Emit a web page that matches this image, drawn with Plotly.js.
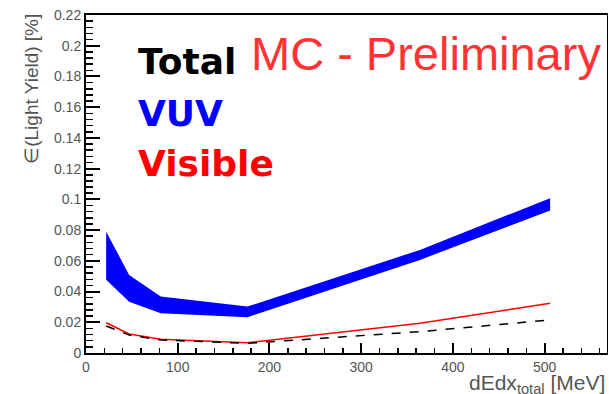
<!DOCTYPE html>
<html>
<head>
<meta charset="utf-8">
<script src="https://cdn.plot.ly/plotly-3.0.1.min.js"></script>
<style>html,body{margin:0;padding:0;background:#fff;}#chart{width:609px;height:394px;}</style>
</head>
<body>
<div id="chart"></div>
<script>
// Data
var dEdx = [22, 47, 81.5, 176, 364, 506];
var vuvUpper = [0.079, 0.0508, 0.0367, 0.0302, 0.0671, 0.1008];
var vuvLower = [0.0476, 0.0334, 0.0259, 0.0233, 0.0606, 0.0927];
var visible = [0.0197, 0.0124, 0.0089, 0.0067, 0.0193, 0.0324];
var total = [0.0176, 0.0117, 0.0085, 0.0063, 0.0139, 0.0215];

var traces = [
  {x: dEdx, y: vuvLower, mode: 'lines', line: {width: 0, color: '#0000ff'}, showlegend: false, hoverinfo: 'skip'},
  {x: dEdx, y: vuvUpper, mode: 'lines', line: {width: 0, color: '#0000ff'}, fill: 'tonexty', fillcolor: '#0000ff', showlegend: false},
  {x: dEdx, y: visible, mode: 'lines', line: {width: 1.5, color: '#ff0000'}, showlegend: false},
  {x: dEdx, y: total, mode: 'lines', line: {width: 1.5, color: '#000000', dash: 'dash'}, showlegend: false}
];

var axisFont = {family: 'Liberation Sans, Arial, sans-serif', size: 14, color: '#555'};
var layout = {
  width: 609, height: 394,
  margin: {l: 86, r: 2, t: 15, b: 41},
  paper_bgcolor: '#fff', plot_bgcolor: 'rgba(0,0,0,0)',
  showlegend: false,
  xaxis: {
    range: [0, 568], showgrid: false, zeroline: false,
    showline: true, linecolor: '#000', linewidth: 2,
    ticks: 'inside', ticklen: 10, tickcolor: '#000', tickwidth: 2,
    dtick: 100, tick0: 0, tickfont: axisFont,
    minor: {ticks: 'inside', ticklen: 5, dtick: 20, tickcolor: '#000', tickwidth: 1.5}
  },
  xaxis2: {overlaying: 'x', side: 'top', range: [0, 568], showgrid: false, zeroline: false, showline: true, linecolor: '#000', linewidth: 2, showticklabels: false, ticks: ''},
  yaxis: {
    range: [0, 0.22], showgrid: false, zeroline: false,
    showline: true, linecolor: '#000', linewidth: 2,
    ticks: 'inside', ticklen: 14, tickcolor: '#000', tickwidth: 2,
    dtick: 0.02, tick0: 0, tickfont: axisFont,
    minor: {ticks: 'inside', ticklen: 7, dtick: 0.004, tickcolor: '#000', tickwidth: 1.5}
  },
  yaxis2: {overlaying: 'y', side: 'right', range: [0, 0.22], showgrid: false, zeroline: false, showline: true, linecolor: '#000', linewidth: 1, showticklabels: false, ticks: ''},
  annotations: [
    {text: '∈(Light Yield) [%]', xref: 'paper', yref: 'paper', x: -0.104, y: 1.009, xanchor: 'center', yanchor: 'top', textangle: -90, showarrow: false, font: {family: 'Liberation Sans, Arial, sans-serif', size: 19, color: '#555'}},
    {text: 'dEdx<sub>total</sub> [MeV]', xref: 'paper', yref: 'paper', x: 1.0, y: -0.048, xanchor: 'right', yanchor: 'top', showarrow: false, font: {family: 'Liberation Sans, Arial, sans-serif', size: 21, color: '#555'}},
    {text: '<b>Total</b>', xref: 'paper', yref: 'paper', x: 0.096, y: 0.861, xanchor: 'left', yanchor: 'middle', showarrow: false, font: {family: 'DejaVu Sans, sans-serif', size: 36, color: '#000'}},
    {text: '<b>VUV</b>', xref: 'paper', yref: 'paper', x: 0.096, y: 0.710, xanchor: 'left', yanchor: 'middle', showarrow: false, font: {family: 'DejaVu Sans, sans-serif', size: 36, color: '#0000ff'}},
    {text: '<b>Visible</b>', xref: 'paper', yref: 'paper', x: 0.096, y: 0.562, xanchor: 'left', yanchor: 'middle', showarrow: false, font: {family: 'DejaVu Sans, sans-serif', size: 36, color: '#ff0000'}},
    {text: 'MC - Preliminary', xref: 'paper', yref: 'paper', x: 0.313, y: 0.885, xanchor: 'left', yanchor: 'middle', showarrow: false, font: {family: 'Liberation Sans, Arial, sans-serif', size: 47, color: '#ff3333'}}
  ]
};
traces.push({x: [0], y: [0], xaxis: 'x2', yaxis: 'y2', mode: 'markers', marker: {size: 0, opacity: 0}, hoverinfo: 'skip', showlegend: false});
Plotly.newPlot('chart', traces, layout, {displayModeBar: false, staticPlot: true});
</script>
</body>
</html>
